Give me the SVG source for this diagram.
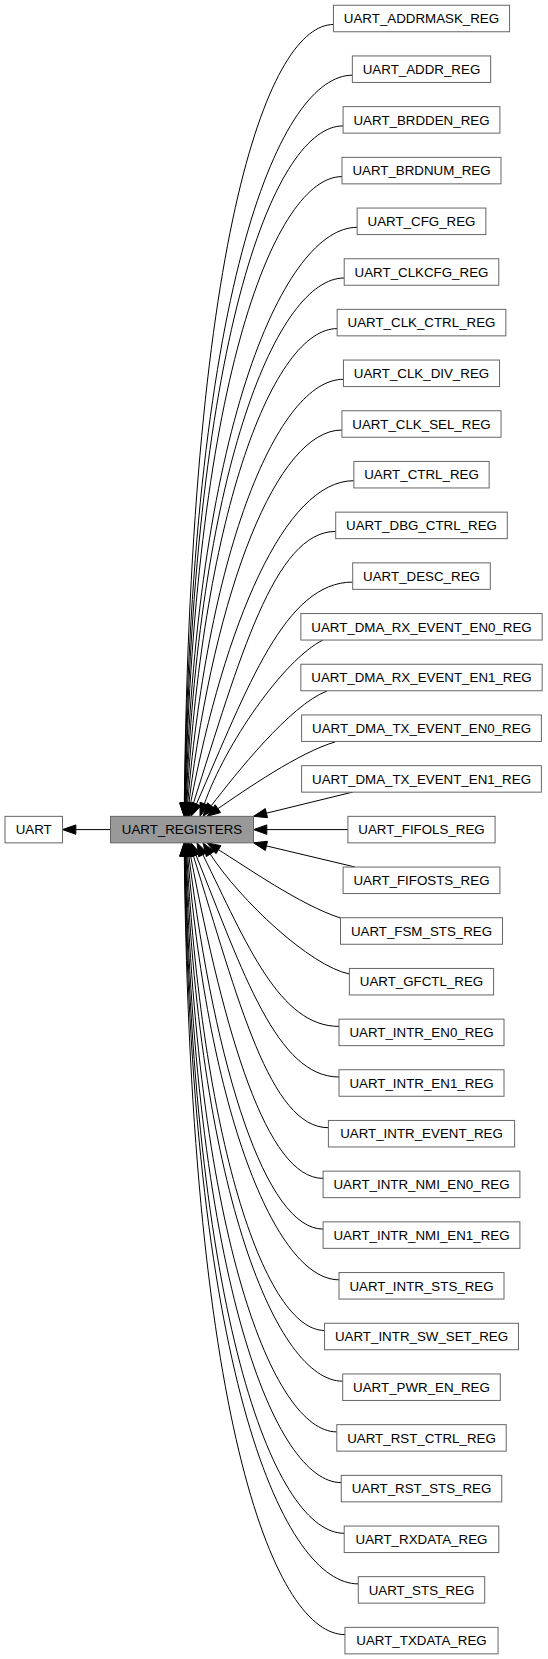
<svg xmlns="http://www.w3.org/2000/svg" width="548" height="1659" viewBox="0 0 548 1659">
<style>
.n rect{fill:#ffffff;stroke:#666666;stroke-width:1}
.n text{font-family:"Liberation Sans",Arial,sans-serif;font-size:13.33px;fill:#000000;text-anchor:middle}
#UART_REGISTERS rect{fill:#999999;stroke:#666666}
.e path{fill:none;stroke:#000000;stroke-width:1}
.e polygon{fill:#000000;stroke:#000000;stroke-width:1}
</style>
<rect width="548" height="1659" fill="#ffffff"/>
<g id="edges" class="e">
<path d="M333.5,24.5 C270.8,24.5 191.1,222.4 184.3,803"/><polygon points="184.1,816.3 189,803.1 179.6,802.9"/>
<path d="M352.4,75.2 C281.8,75.2 192.3,275.3 184.5,803"/><polygon points="184.3,816.3 189.2,803.1 179.8,802.9"/>
<path d="M343.1,125.9 C276.5,125.9 193.8,326.1 184.9,803"/><polygon points="184.6,816.3 189.6,803.1 180.2,802.9"/>
<path d="M342,176.6 C276,176.6 195.5,374.9 185.1,803"/><polygon points="184.8,816.3 189.8,803.1 180.4,802.9"/>
<path d="M357.2,227.3 C285,227.3 197.7,421.7 185.6,803"/><polygon points="185.2,816.3 190.3,803.2 180.9,802.9"/>
<path d="M344.2,278 C277.5,278 200.4,466.4 186.1,803"/><polygon points="185.5,816.3 190.8,803.2 181.4,802.8"/>
<path d="M337.2,328.6 C273.7,328.6 204,509 186.8,803"/><polygon points="186,816.3 191.5,803.3 182.1,802.7"/>
<path d="M343.5,379.3 C277.6,379.3 208.8,549.7 187.7,803.1"/><polygon points="186.6,816.3 192.4,803.4 183,802.7"/>
<path d="M342,430 C277,430 215.4,588.4 188.9,803.1"/><polygon points="187.3,816.3 193.6,803.7 184.2,802.5"/>
<path d="M353.8,480.7 C284.2,480.7 224.8,625 190.6,803.2"/><polygon points="188.1,816.3 195.2,804.1 186,802.3"/>
<path d="M335.7,531.4 C274.2,531.4 239.3,659.6 193.3,803.6"/><polygon points="189.3,816.3 197.8,805 188.8,802.2"/>
<path d="M352.7,582.1 C284.8,582.1 247.6,687.5 196.4,804.1"/><polygon points="191,816.3 200.7,806 192.1,802.2"/>
<path d="M323,640 C283,660 225,745 204.4,803.8"/><polygon points="200,816.3 208.8,805.4 200,802.2"/>
<path d="M327,691 C290,705 235,775 211.2,805.8"/><polygon points="203,816.3 214.9,808.7 207.5,802.9"/>
<path d="M335,742 C300,752 245,790 217.9,808.7"/><polygon points="207,816.3 220.6,812.6 215.2,804.8"/>
<path d="M353,792 L266.4,813.2"/><polygon points="253.5,816.3 267.5,817.7 265.3,808.6"/>
<path d="M347.9,829.6 L266.8,829.6"/><polygon points="253.5,829.6 266.8,834.3 266.8,824.9"/>
<path d="M110.5,829.6 L75.8,829.6"/><polygon points="62.5,829.6 75.8,834.3 75.8,824.9"/>
<path d="M355,867 L266.4,845.9"/><polygon points="253.5,842.8 267.5,841.3 265.3,850.5"/>
<path d="M340.5,918 C300,905 245,866 218.4,849.7"/><polygon points="207,842.8 220.9,845.7 216,853.7"/>
<path d="M349.4,974 C310,966 240,900 210.2,854"/><polygon points="203,842.8 214.2,851.5 206.3,856.6"/>
<path d="M339,1026.4 C279.4,1026.4 246.7,943.8 202.9,854.7"/><polygon points="197,842.8 207.1,852.6 198.7,856.8"/>
<path d="M339,1077 C276.8,1077 242.8,971.6 196,855.1"/><polygon points="191,842.8 200.4,853.4 191.6,856.9"/>
<path d="M328.4,1127.7 C270,1127.7 238,999.5 193.3,855.5"/><polygon points="189.3,842.8 197.8,854.1 188.8,856.9"/>
<path d="M323.1,1178.4 C266.4,1178.4 224.8,1034.1 190.6,855.9"/><polygon points="188.1,842.8 195.2,855 186,856.8"/>
<path d="M323.1,1229.1 C266.1,1229.1 215.4,1070.7 188.9,856"/><polygon points="187.3,842.8 193.6,855.4 184.2,856.6"/>
<path d="M339,1279.8 C275,1279.8 208.8,1109.4 187.7,856.1"/><polygon points="186.6,842.8 192.4,855.7 183,856.4"/>
<path d="M324.6,1330.5 C266.4,1330.5 204,1150.1 186.8,856.1"/><polygon points="186,842.8 191.5,855.8 182.1,856.4"/>
<path d="M342.7,1381.2 C276.7,1381.2 200.4,1192.8 186.1,856.1"/><polygon points="185.5,842.8 190.8,855.9 181.4,856.3"/>
<path d="M336.8,1431.9 C273.1,1431.9 197.7,1237.5 185.6,856.1"/><polygon points="185.2,842.8 190.3,856 180.9,856.3"/>
<path d="M341.2,1482.6 C275.5,1482.6 195.5,1284.3 185.1,856.1"/><polygon points="184.8,842.8 189.8,856 180.4,856.2"/>
<path d="M344.2,1533.3 C277.2,1533.3 193.8,1333.1 184.9,856.1"/><polygon points="184.6,842.8 189.6,856 180.2,856.2"/>
<path d="M358.3,1583.9 C285.2,1583.9 192.3,1383.8 184.5,856.1"/><polygon points="184.3,842.8 189.2,856 179.8,856.2"/>
<path d="M345,1634.6 C277.4,1634.6 191.1,1436.7 184.3,856.1"/><polygon points="184.1,842.8 189,856 179.6,856.2"/>
</g>
<g id="UART" class="n"><rect x="5" y="816.35" width="57.5" height="26.5"/><text x="33.75" y="834.3">UART</text></g>
<g id="UART_REGISTERS" class="n"><rect x="110.5" y="816.35" width="143" height="26.5"/><text x="182" y="834.3">UART_REGISTERS</text></g>
<g id="UART_ADDRMASK_REG" class="n"><rect x="333.45" y="5.25" width="176.1" height="26.5"/><text x="421.5" y="23.2">UART_ADDRMASK_REG</text></g>
<g id="UART_ADDR_REG" class="n"><rect x="352.35" y="55.95" width="138.3" height="26.5"/><text x="421.5" y="73.9">UART_ADDR_REG</text></g>
<g id="UART_BRDDEN_REG" class="n"><rect x="343.1" y="106.65" width="156.8" height="26.5"/><text x="421.5" y="124.6">UART_BRDDEN_REG</text></g>
<g id="UART_BRDNUM_REG" class="n"><rect x="342" y="157.35" width="159" height="26.5"/><text x="421.5" y="175.3">UART_BRDNUM_REG</text></g>
<g id="UART_CFG_REG" class="n"><rect x="357.15" y="208.05" width="128.7" height="26.5"/><text x="421.5" y="226">UART_CFG_REG</text></g>
<g id="UART_CLKCFG_REG" class="n"><rect x="344.2" y="258.75" width="154.6" height="26.5"/><text x="421.5" y="276.7">UART_CLKCFG_REG</text></g>
<g id="UART_CLK_CTRL_REG" class="n"><rect x="337.15" y="309.35" width="168.7" height="26.5"/><text x="421.5" y="327.3">UART_CLK_CTRL_REG</text></g>
<g id="UART_CLK_DIV_REG" class="n"><rect x="343.45" y="360.05" width="156.1" height="26.5"/><text x="421.5" y="378">UART_CLK_DIV_REG</text></g>
<g id="UART_CLK_SEL_REG" class="n"><rect x="341.95" y="410.75" width="159.1" height="26.5"/><text x="421.5" y="428.7">UART_CLK_SEL_REG</text></g>
<g id="UART_CTRL_REG" class="n"><rect x="353.85" y="461.45" width="135.3" height="26.5"/><text x="421.5" y="479.4">UART_CTRL_REG</text></g>
<g id="UART_DBG_CTRL_REG" class="n"><rect x="335.7" y="512.15" width="171.6" height="26.5"/><text x="421.5" y="530.1">UART_DBG_CTRL_REG</text></g>
<g id="UART_DESC_REG" class="n"><rect x="352.7" y="562.85" width="137.6" height="26.5"/><text x="421.5" y="580.8">UART_DESC_REG</text></g>
<g id="UART_DMA_RX_EVENT_EN0_REG" class="n"><rect x="300.85" y="613.55" width="241.3" height="26.5"/><text x="421.5" y="631.5">UART_DMA_RX_EVENT_EN0_REG</text></g>
<g id="UART_DMA_RX_EVENT_EN1_REG" class="n"><rect x="300.85" y="664.25" width="241.3" height="26.5"/><text x="421.5" y="682.2">UART_DMA_RX_EVENT_EN1_REG</text></g>
<g id="UART_DMA_TX_EVENT_EN0_REG" class="n"><rect x="301.6" y="714.95" width="239.8" height="26.5"/><text x="421.5" y="732.9">UART_DMA_TX_EVENT_EN0_REG</text></g>
<g id="UART_DMA_TX_EVENT_EN1_REG" class="n"><rect x="301.6" y="765.65" width="239.8" height="26.5"/><text x="421.5" y="783.6">UART_DMA_TX_EVENT_EN1_REG</text></g>
<g id="UART_FIFOLS_REG" class="n"><rect x="347.9" y="816.35" width="147.2" height="26.5"/><text x="421.5" y="834.3">UART_FIFOLS_REG</text></g>
<g id="UART_FIFOSTS_REG" class="n"><rect x="343.1" y="867.05" width="156.8" height="26.5"/><text x="421.5" y="885">UART_FIFOSTS_REG</text></g>
<g id="UART_FSM_STS_REG" class="n"><rect x="340.5" y="917.75" width="162" height="26.5"/><text x="421.5" y="935.7">UART_FSM_STS_REG</text></g>
<g id="UART_GFCTL_REG" class="n"><rect x="349.4" y="968.45" width="144.2" height="26.5"/><text x="421.5" y="986.4">UART_GFCTL_REG</text></g>
<g id="UART_INTR_EN0_REG" class="n"><rect x="339" y="1019.15" width="165" height="26.5"/><text x="421.5" y="1037.1">UART_INTR_EN0_REG</text></g>
<g id="UART_INTR_EN1_REG" class="n"><rect x="339" y="1069.75" width="165" height="26.5"/><text x="421.5" y="1087.7">UART_INTR_EN1_REG</text></g>
<g id="UART_INTR_EVENT_REG" class="n"><rect x="328.4" y="1120.45" width="186.2" height="26.5"/><text x="421.5" y="1138.4">UART_INTR_EVENT_REG</text></g>
<g id="UART_INTR_NMI_EN0_REG" class="n"><rect x="323.1" y="1171.15" width="196.8" height="26.5"/><text x="421.5" y="1189.1">UART_INTR_NMI_EN0_REG</text></g>
<g id="UART_INTR_NMI_EN1_REG" class="n"><rect x="323.1" y="1221.85" width="196.8" height="26.5"/><text x="421.5" y="1239.8">UART_INTR_NMI_EN1_REG</text></g>
<g id="UART_INTR_STS_REG" class="n"><rect x="339" y="1272.55" width="165" height="26.5"/><text x="421.5" y="1290.5">UART_INTR_STS_REG</text></g>
<g id="UART_INTR_SW_SET_REG" class="n"><rect x="324.55" y="1323.25" width="193.9" height="26.5"/><text x="421.5" y="1341.2">UART_INTR_SW_SET_REG</text></g>
<g id="UART_PWR_EN_REG" class="n"><rect x="342.7" y="1373.95" width="157.6" height="26.5"/><text x="421.5" y="1391.9">UART_PWR_EN_REG</text></g>
<g id="UART_RST_CTRL_REG" class="n"><rect x="336.8" y="1424.65" width="169.4" height="26.5"/><text x="421.5" y="1442.6">UART_RST_CTRL_REG</text></g>
<g id="UART_RST_STS_REG" class="n"><rect x="341.25" y="1475.35" width="160.5" height="26.5"/><text x="421.5" y="1493.3">UART_RST_STS_REG</text></g>
<g id="UART_RXDATA_REG" class="n"><rect x="344.2" y="1526.05" width="154.6" height="26.5"/><text x="421.5" y="1544">UART_RXDATA_REG</text></g>
<g id="UART_STS_REG" class="n"><rect x="358.3" y="1576.65" width="126.4" height="26.5"/><text x="421.5" y="1594.6">UART_STS_REG</text></g>
<g id="UART_TXDATA_REG" class="n"><rect x="344.95" y="1627.35" width="153.1" height="26.5"/><text x="421.5" y="1645.3">UART_TXDATA_REG</text></g>
</svg>
